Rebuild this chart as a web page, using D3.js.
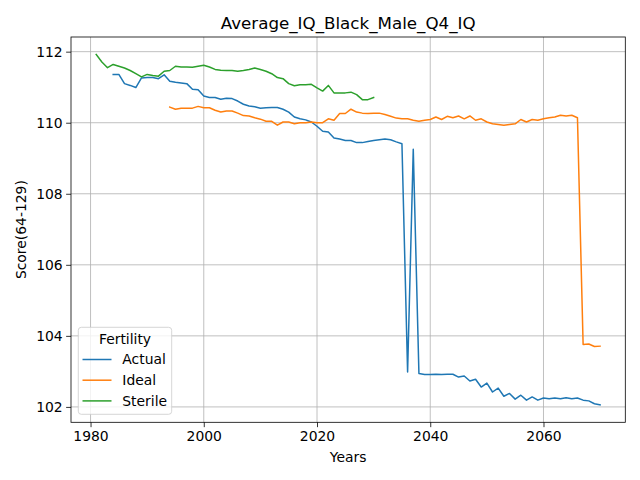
<!DOCTYPE html>
<html>
<head>
<meta charset="utf-8">
<script src="https://cdn.jsdelivr.net/npm/d3@7"></script>
<style>
  body { margin: 0; background: #fff; }
  svg { display: block; font-family: "DejaVu Sans", sans-serif; }
</style>
</head>
<body>
<svg id="chart" width="640" height="480"></svg>
<script>
const chartTitle = "Average_IQ_Black_Male_Q4_IQ";
const xLabel = "Years";
const yLabel = "Score(64-129)";
const legendTitle = "Fertility";
const seriesNames = ["Actual", "Ideal", "Sterile"];
const seriesColors = ["#1f77b4", "#ff7f0e", "#2ca02c"];
const xTicks = [1980, 2000, 2020, 2040, 2060];
const yTicks = [102, 104, 106, 108, 110, 112];

const actualStart = 1984;
const actualValues = [
  111.36, 111.36, 111.10, 111.05, 110.99, 111.26, 111.27, 111.27, 111.24, 111.35,
  111.17, 111.14, 111.12, 111.10, 110.94, 110.93, 110.75, 110.71, 110.71, 110.66,
  110.69, 110.68, 110.61, 110.52, 110.47, 110.45, 110.41, 110.42, 110.43, 110.43,
  110.38, 110.30, 110.16, 110.11, 110.08, 110.02, 109.90, 109.76, 109.74, 109.57,
  109.54, 109.50, 109.50, 109.44, 109.44, 109.47, 109.50, 109.52, 109.54, 109.52,
  109.46, 109.41, 102.98, 109.25, 102.94, 102.91, 102.91, 102.92, 102.91, 102.92,
  102.92, 102.84, 102.87, 102.73, 102.78, 102.56, 102.67, 102.42, 102.53, 102.30,
  102.38, 102.22, 102.33, 102.19, 102.28, 102.19, 102.25, 102.23, 102.25, 102.23,
  102.26, 102.23, 102.25, 102.19, 102.17, 102.09, 102.06
];

const idealStart = 1994;
const idealValues = [
  110.44, 110.38, 110.41, 110.41, 110.41, 110.46, 110.42, 110.42, 110.35, 110.30,
  110.33, 110.33, 110.27, 110.20, 110.19, 110.14, 110.10, 110.04, 110.04, 109.93,
  110.02, 110.02, 109.97, 110.00, 110.00, 110.02, 110.00, 110.00, 110.11, 110.07,
  110.26, 110.26, 110.38, 110.30, 110.27, 110.26, 110.27, 110.27, 110.23, 110.18,
  110.13, 110.11, 110.11, 110.07, 110.04, 110.07, 110.09, 110.16, 110.09, 110.18,
  110.14, 110.19, 110.11, 110.19, 110.07, 110.11, 110.02, 109.97, 109.95, 109.93,
  109.95, 109.97, 110.09, 110.02, 110.09, 110.07, 110.11, 110.14, 110.16, 110.21,
  110.19, 110.21, 110.14, 103.76, 103.77, 103.70, 103.71
];

const sterileStart = 1981;
const sterileValues = [
  111.92, 111.71, 111.55, 111.64, 111.59, 111.54, 111.47, 111.38, 111.29, 111.36,
  111.33, 111.31, 111.45, 111.47, 111.59, 111.57, 111.57, 111.56, 111.59, 111.62,
  111.57, 111.50, 111.48, 111.47, 111.47, 111.45, 111.47, 111.50, 111.54, 111.50,
  111.45, 111.38, 111.27, 111.24, 111.10, 111.04, 111.07, 111.07, 111.08, 110.98,
  110.89, 111.05, 110.84, 110.84, 110.84, 110.86, 110.79, 110.65, 110.65, 110.71
];

const series = [
  { name: seriesNames[0], color: seriesColors[0], pts: actualValues.map((v, i) => [actualStart + i, v]) },
  { name: seriesNames[1], color: seriesColors[1], pts: idealValues.map((v, i) => [idealStart + i, v]) },
  { name: seriesNames[2], color: seriesColors[2], pts: sterileValues.map((v, i) => [sterileStart + i, v]) }
];

const svg = d3.select("#chart");
const L = 71, R = 625.3, T = 37, B = 422.3;

const allPts = series.flatMap(s => s.pts);
const xExt = d3.extent(allPts, d => d[0]);
const yExt = d3.extent(allPts, d => d[1]);
const xPad = (xExt[1] - xExt[0]) * 0.05;
const yPad = (yExt[1] - yExt[0]) * 0.05;

const x = d3.scaleLinear().domain([xExt[0] - xPad, xExt[1] + xPad]).range([L, R]);
const y = d3.scaleLinear().domain([yExt[0] - yPad, yExt[1] + yPad]).range([B, T]);

// grid
const grid = svg.append("g");
grid.selectAll("line.gx").data(xTicks).enter().append("line")
  .attr("x1", d => x(d)).attr("x2", d => x(d)).attr("y1", T).attr("y2", B)
  .attr("stroke", "#b0b0b0").attr("stroke-width", 0.8);
grid.selectAll("line.gy").data(yTicks).enter().append("line")
  .attr("y1", d => y(d)).attr("y2", d => y(d)).attr("x1", L).attr("x2", R)
  .attr("stroke", "#b0b0b0").attr("stroke-width", 0.8);

// lines
const line = d3.line().x(d => x(d[0])).y(d => y(d[1]));
svg.append("g").selectAll("path").data(series).enter().append("path")
  .attr("d", d => line(d.pts))
  .attr("fill", "none")
  .attr("stroke", d => d.color)
  .attr("stroke-width", 1.5)
  .attr("stroke-linejoin", "round")
  .attr("stroke-linecap", "square");

// axes
const xAxis = d3.axisBottom(x).tickValues(xTicks).tickSize(4.86).tickPadding(3.5).tickFormat(d3.format("d"));
const yAxis = d3.axisLeft(y).tickValues(yTicks).tickSize(4.86).tickPadding(3.5).tickFormat(d3.format("d"));
const gx = svg.append("g").attr("transform", `translate(0,${B})`).call(xAxis);
const gy = svg.append("g").attr("transform", `translate(${L},0)`).call(yAxis);
[gx, gy].forEach(g => {
  g.select(".domain").remove();
  g.selectAll(".tick line").attr("stroke", "#000").attr("stroke-width", 0.8);
  g.selectAll(".tick text").attr("fill", "#000").attr("font-size", "13.9px")
    .attr("font-family", "DejaVu Sans, sans-serif");
});

// frame
svg.append("rect").attr("x", L).attr("y", T).attr("width", R - L).attr("height", B - T)
  .attr("fill", "none").attr("stroke", "#000").attr("stroke-width", 0.8);

// labels
svg.append("text").attr("x", (L + R) / 2).attr("y", 29).attr("text-anchor", "middle")
  .attr("font-size", "16.7px").text(chartTitle);
svg.append("text").attr("x", (L + R) / 2).attr("y", 462).attr("text-anchor", "middle")
  .attr("font-size", "13.9px").text(xLabel);
svg.append("text").attr("transform", `translate(26,${(T + B) / 2}) rotate(-90)`)
  .attr("text-anchor", "middle").attr("font-size", "13.9px").text(yLabel);

// legend
const lg = svg.append("g");
lg.append("rect").attr("x", 78.3).attr("y", 327.3).attr("width", 93.4).attr("height", 87)
  .attr("rx", 3).attr("fill", "#fff").attr("fill-opacity", 0.8)
  .attr("stroke", "#cccccc").attr("stroke-width", 0.8);
lg.append("text").attr("x", 125).attr("y", 343.5).attr("text-anchor", "middle")
  .attr("font-size", "13.9px").attr("fill", "#000").text(legendTitle);
const items = lg.selectAll("g.item").data(series).enter().append("g")
  .attr("transform", (d, i) => `translate(0,${359.5 + i * 20.7})`);
items.append("line").attr("x1", 82.5).attr("x2", 111.5).attr("y1", 0).attr("y2", 0)
  .attr("stroke", d => d.color).attr("stroke-width", 1.5);
items.append("text").attr("x", 122.3).attr("y", 0).attr("dy", "0.35em")
  .attr("font-size", "13.9px").attr("fill", "#000").text(d => d.name);
</script>
</body>
</html>
